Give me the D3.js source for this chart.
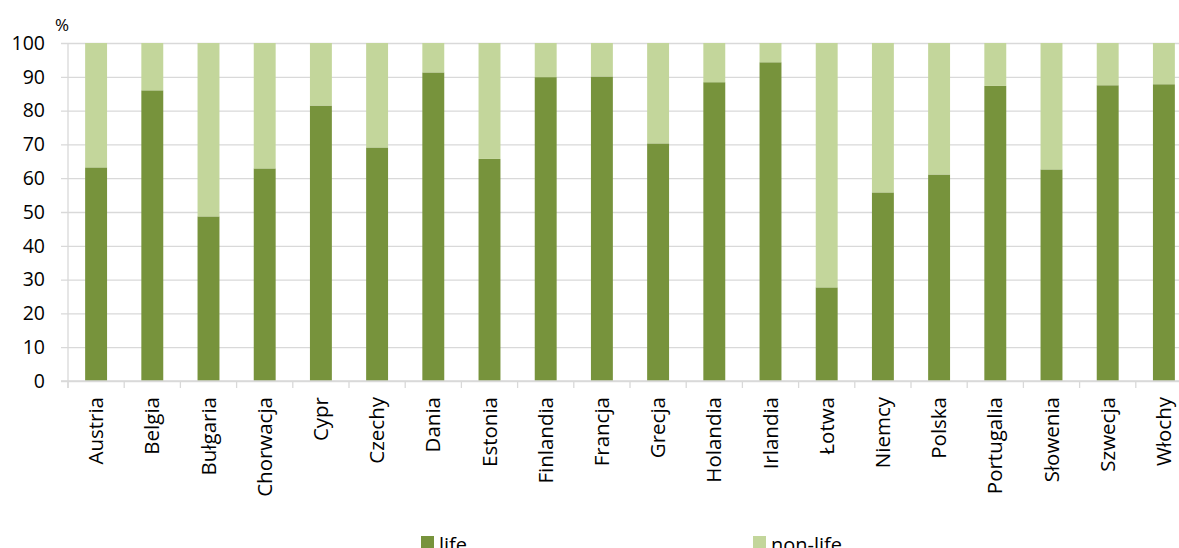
<!DOCTYPE html>
<html>
<head>
<meta charset="utf-8">
<script src="https://cdn.jsdelivr.net/npm/d3@7"></script>
<style>
  html, body { margin: 0; padding: 0; background: #fff; overflow: hidden; }
  svg { display: block; }
  svg text { font-family: "Open Sans", sans-serif; fill: #000; }
</style>
</head>
<body>
<div id="chart"></div>
<script>
// life vs non-life share of premiums, %
const countries = ["Austria", "Belgia", "Bułgaria", "Chorwacja", "Cypr", "Czechy", "Dania", "Estonia",
  "Finlandia", "Francja", "Grecja", "Holandia", "Irlandia", "Łotwa", "Niemcy", "Polska",
  "Portugalia", "Słowenia", "Szwecja", "Włochy"];
const life = [63.2, 86.0, 48.7, 62.9, 81.5, 69.1, 91.3, 65.7, 89.9, 90.1,
  70.3, 88.4, 94.3, 27.7, 55.8, 61.1, 87.3, 62.6, 87.5, 87.8];
const nonLife = life.map((v) => 100 - v);
const yTicks = [0, 10, 20, 30, 40, 50, 60, 70, 80, 90, 100];
const seriesNames = ["life", "non-life"];
const seriesColors = ["#77933C", "#C3D69B"];

const W = 1179, H = 548;
const margin = { top: 43, right: -13, bottom: 167, left: 68 };
const innerW = W - margin.left - margin.right;
const innerH = H - margin.top - margin.bottom;

const svg = d3.select("#chart").append("svg").attr("width", W).attr("height", H);
const g = svg.append("g").attr("transform", `translate(${margin.left},${margin.top})`);

const x = d3.scaleBand().domain(countries).range([0, innerW]).paddingInner(0.61).paddingOuter(0.305);
const y = d3.scaleLinear().domain([0, 100]).range([innerH, 0]);

// gridlines + y axis
const yAxis = g.append("g")
  .call(d3.axisLeft(y).tickValues(yTicks).tickSize(-innerW).tickSizeOuter(0));
yAxis.attr("font-family", null).attr("font-size", null);
yAxis.select(".domain").remove();
yAxis.selectAll(".tick line").attr("x1", -7).attr("stroke", "#D9D9D9").attr("stroke-width", 1.3);
yAxis.selectAll(".tick text").style("font-size", "19.5px").attr("x", -23);

g.append("line").attr("x1", 0).attr("x2", 0).attr("y1", 0).attr("y2", innerH + 7)
  .attr("stroke", "#D9D9D9").attr("stroke-width", 1.3);

// stacked bars
const rows = countries.map((c, i) => ({ country: c, life: life[i], "non-life": nonLife[i] }));
const stack = d3.stack().keys(seriesNames)(rows);

g.selectAll("g.series").data(stack).enter().append("g")
  .attr("class", "series")
  .attr("fill", (d, i) => seriesColors[i])
  .selectAll("rect").data((d) => d).enter().append("rect")
  .attr("x", (d) => x(d.data.country))
  .attr("y", (d) => y(d[1]))
  .attr("width", x.bandwidth())
  .attr("height", (d) => y(d[0]) - y(d[1]));

// x axis
const step = x.step();
const xAxis = g.append("g").attr("transform", `translate(0,${innerH})`)
  .call(d3.axisBottom(x).tickSize(0).tickSizeOuter(0));
xAxis.attr("font-family", null).attr("font-size", null);
xAxis.select(".domain").attr("stroke", "#D9D9D9").attr("stroke-width", 1.3).attr("d", `M-7,0H${innerW}`);
xAxis.selectAll(".tick text")
  .style("font-size", "20.5px")
  .attr("transform", "rotate(-90)")
  .attr("text-anchor", "end")
  .attr("x", -16)
  .attr("y", 0)
  .attr("dy", "0.35em");
g.append("g").selectAll("line").data(d3.range(countries.length + 1)).enter().append("line")
  .attr("x1", (i) => i * step).attr("x2", (i) => i * step)
  .attr("y1", innerH).attr("y2", innerH + 7)
  .attr("stroke", "#D9D9D9").attr("stroke-width", 1.3);

// unit label
svg.append("text").attr("x", 55).attr("y", 31).style("font-size", "17px").text("%");

// legend
const legendX = [421, 753];
const legend = svg.append("g").selectAll("g").data(seriesNames).enter().append("g")
  .attr("transform", (d, i) => `translate(${legendX[i]},536)`);
legend.append("rect").attr("width", 13).attr("height", 13).attr("fill", (d, i) => seriesColors[i]);
legend.append("text").attr("x", 18).attr("y", 16).style("font-size", "20px").text((d) => d);
</script>
</body>
</html>
